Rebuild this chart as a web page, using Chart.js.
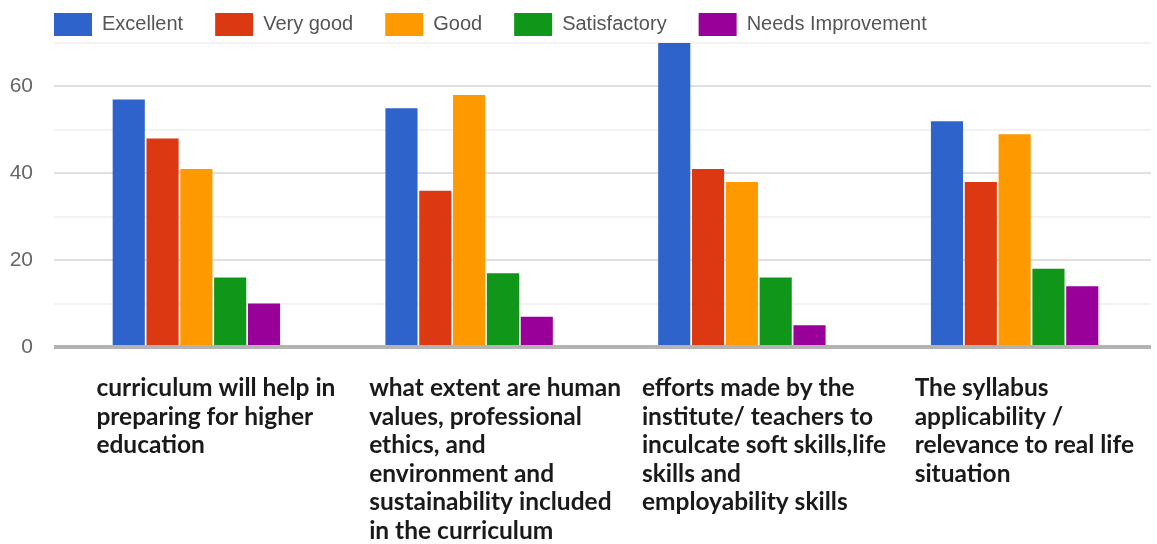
<!DOCTYPE html>
<html>
<head>
<meta charset="utf-8">
<script src="https://cdn.jsdelivr.net/npm/chart.js@4"></script>
<style>
  html, body { margin: 0; padding: 0; background: #fff; }
  #wrap { width: 1157px; height: 544px; }
</style>
</head>
<body>
<div id="wrap"><canvas id="feedbackChart"></canvas></div>
<script>
// question labels, one array of lines per category
const categories = [
  ['curriculum will help in', 'preparing for higher', 'education'],
  ['what extent are human', 'values, professional', 'ethics, and', 'environment and', 'sustainability included', 'in the curriculum'],
  ['efforts made by the', 'institute/ teachers to', 'inculcate soft skills,life', 'skills and', 'employability skills'],
  ['The syllabus', 'applicability /', 'relevance to real life', 'situation'],
];

const excellent = [57, 55, 70, 52];
const veryGood = [48, 36, 41, 38];
const good = [41, 58, 38, 49];
const satisfactory = [16, 17, 16, 18];
const needsImprovement = [10, 7, 5, 14];

const yTickLabels = [0, 20, 40, 60];

const chartData = {
  labels: categories,
  datasets: [
    { label: 'Excellent', data: excellent, backgroundColor: '#2e63cc' },
    { label: 'Very good', data: veryGood, backgroundColor: '#dc3912' },
    { label: 'Good', data: good, backgroundColor: '#ff9900' },
    { label: 'Satisfactory', data: satisfactory, backgroundColor: '#109618' },
    { label: 'Needs Improvement', data: needsImprovement, backgroundColor: '#990099' },
  ],
};

function gridColor(ctx) {
  const v = ctx.tick.value;
  if (v === 0) return '#b3b3b3';
  return v % 20 === 0 ? '#e4dfdf' : '#f3f1f1';
}

// legend sits a bit right of the y labels in the original
const legendShift = {
  id: 'legendShift',
  afterLayout(chart) {
    chart.legend.left += 17;
    chart.legend.right += 17;
  },
};

const myChart = new Chart(document.getElementById('feedbackChart'), {
  type: 'bar',
  data: chartData,
  plugins: [legendShift],
  options: {
    responsive: true,
    maintainAspectRatio: false,
    animation: false,
    layout: { padding: { left: 5, right: 6, top: -19, bottom: -28 } },
    datasets: {
      bar: { categoryPercentage: 0.62, barPercentage: 0.95 },
    },
    plugins: {
      tooltip: { enabled: false },
      legend: {
        position: 'top',
        align: 'start',
        maxHeight: 62,
        labels: {
          boxWidth: 38,
          boxHeight: 23,
          padding: 32,
          color: '#555',
          font: { family: 'Liberation Sans, Arial, sans-serif', size: 20 },
        },
      },
    },
    scales: {
      x: {
        grid: { display: false, drawTicks: false },
        border: { display: false },
        ticks: {
          align: 'start',
          labelOffset: -100,
          padding: 27,
          maxRotation: 0,
          minRotation: 0,
          autoSkip: false,
          color: '#1a1a1a',
          font: { family: 'Lato, sans-serif', weight: 'bold', size: 24.5, lineHeight: 1.163 },
        },
        afterFit: (scale) => {
          scale.paddingLeft = 0;
          scale.paddingRight = 0;
        },
      },
      y: {
        min: 0,
        max: 70,
        border: { display: false },
        grid: {
          color: gridColor,
          tickColor: gridColor,
          lineWidth: (ctx) => (ctx.tick.value === 0 ? 4 : 2),
          tickLength: 6,
        },
        ticks: {
          stepSize: 10,
          padding: 21,
          color: '#666',
          font: { family: 'Liberation Sans, Arial, sans-serif', size: 21 },
          callback: (v) => (yTickLabels.includes(v) ? v : ''),
        },
        afterFit: (scale) => {
          scale.width = 55;
        },
      },
    },
  },
});
</script>
</body>
</html>
